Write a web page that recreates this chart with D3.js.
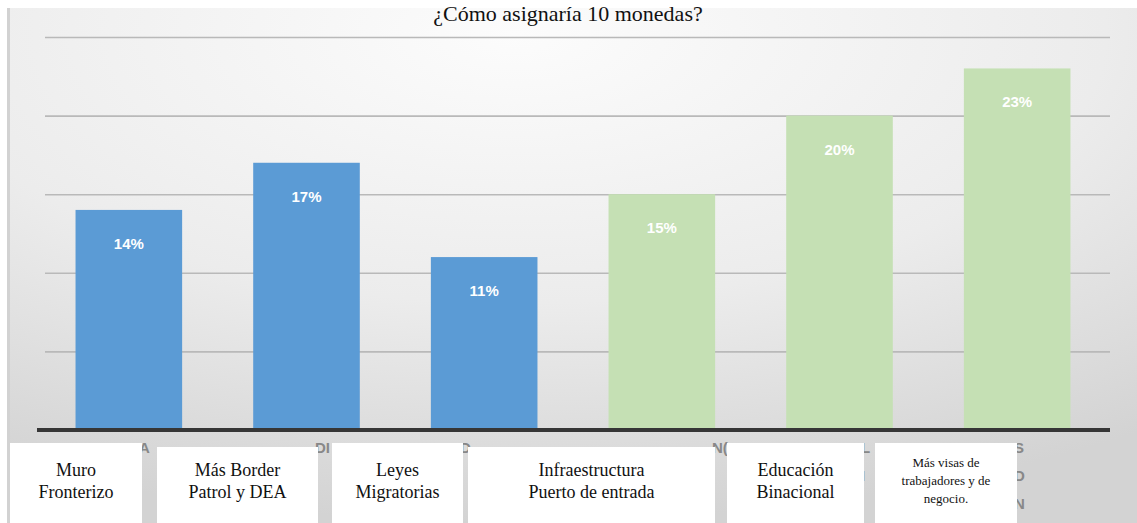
<!DOCTYPE html>
<html>
<head>
<meta charset="utf-8">
<script src="https://cdn.jsdelivr.net/npm/d3@7"></script>
<style>
    html, body { margin: 0; padding: 0; background: #ffffff; overflow: hidden; }
    svg { display: block; }
</style>
</head>
<body>
<div id="chart"></div>
<script>
// chart data
const categories = ['Muro Fronterizo', 'Más Border Patrol y DEA', 'Leyes Migratorias',
    'Infraestructura Puerto de entrada', 'Educación Binacional', 'Más visas de trabajadores y de negocio.'];
const shares = [14, 17, 11, 15, 20, 23];
const shareLabels = ['14%', '17%', '11%', '15%', '20%', '23%'];
const groups = ['seguridad', 'seguridad', 'seguridad', 'facilitacion', 'facilitacion', 'facilitacion'];
const yTicks = [5, 10, 15, 20, 25];

// text lines written in the white boxes under the axis
const boxLines = [
    ['Muro', 'Fronterizo'],
    ['Más Border', 'Patrol y DEA'],
    ['Leyes', 'Migratorias'],
    ['Infraestructura', 'Puerto de entrada'],
    ['Educación', 'Binacional'],
    ['Más visas de', 'trabajadores y de', 'negocio.']
];
// bits of the original axis labels that still show between the boxes
const ghostLines = [['A'], ['DI'], ['D'], ['N('], ['L', 'I'], ['S', 'D', 'N']];

const W = 1137;
const H = 523;
const baseY = 430;
const topY = 37;

const COLORS = { seguridad: '#5b9bd5', facilitacion: '#c5e0b4' };

// white boxes pasted over the axis labels: left, right, top
const boxLayout = [
    [10, 142, 443],
    [157, 318, 447],
    [332, 463, 443],
    [468, 715, 447],
    [727, 864, 443],
    [875, 1017, 443]
];

const svg = d3.select('#chart')
    .append('svg')
    .attr('width', W)
    .attr('height', H);

// background panel gradient
const defs = svg.append('defs');
const grad = defs.append('radialGradient')
    .attr('id', 'panelGrad')
    .attr('cx', '45%')
    .attr('cy', '5%')
    .attr('r', '95%');
grad.append('stop').attr('offset', '0%').attr('stop-color', '#fcfcfc');
grad.append('stop').attr('offset', '55%').attr('stop-color', '#ececec');
grad.append('stop').attr('offset', '100%').attr('stop-color', '#d3d3d3');

svg.append('rect')
    .attr('x', 7)
    .attr('y', 8)
    .attr('width', W - 7)
    .attr('height', H - 8)
    .attr('fill', 'url(#panelGrad)');
svg.append('rect')
    .attr('x', 7)
    .attr('y', 8)
    .attr('width', 3)
    .attr('height', H - 8)
    .attr('fill', '#d2d2d2');

// scales
const xScale = d3.scaleBand()
    .domain(categories)
    .range([40, 1106])
    .paddingInner(0.40)
    .paddingOuter(0.2);

const yScale = d3.scaleLinear()
    .domain([0, 25])
    .range([baseY, topY]);

// gridlines from the y axis
const yAxis = d3.axisLeft(yScale)
    .tickValues(yTicks)
    .tickSize(-(1110 - 45))
    .tickFormat('');

svg.append('g')
    .attr('class', 'grid')
    .attr('transform', 'translate(45,0)')
    .call(yAxis)
    .call((g) => g.select('.domain').remove())
    .call((g) => g.selectAll('.tick line')
        .attr('stroke', '#b9b9b9')
        .attr('stroke-width', 1.6));

// bars
const idx = d3.range(categories.length);
svg.append('g')
    .selectAll('rect')
    .data(idx)
    .enter()
    .append('rect')
    .attr('x', (i) => xScale(categories[i]))
    .attr('y', (i) => yScale(shares[i]))
    .attr('width', xScale.bandwidth())
    .attr('height', (i) => baseY - yScale(shares[i]))
    .attr('fill', (i) => COLORS[groups[i]]);

// value labels inside the bars
svg.append('g')
    .selectAll('text')
    .data(idx)
    .enter()
    .append('text')
    .attr('x', (i) => xScale(categories[i]) + xScale.bandwidth() / 2)
    .attr('y', (i) => yScale(shares[i]) + 39)
    .attr('text-anchor', 'middle')
    .attr('fill', '#ffffff')
    .style('font-family', 'Arial, "Liberation Sans", sans-serif')
    .style('font-weight', 'bold')
    .style('font-size', '15px')
    .text((i) => shareLabels[i]);

// x axis baseline
const xAxis = d3.axisBottom(xScale).tickSize(0).tickFormat('');
svg.append('g')
    .attr('transform', 'translate(0,' + baseY + ')')
    .call(xAxis)
    .call((g) => g.select('.domain')
        .attr('d', 'M-3,0H1070')
        .attr('transform', 'translate(40,0)')
        .attr('stroke', '#363636')
        .attr('stroke-width', 4));

// leftover pieces of the old labels
const ghost = svg.append('g')
    .attr('fill', '#888888')
    .style('font-family', 'Arial, "Liberation Sans", sans-serif')
    .style('font-weight', 'bold')
    .style('font-size', '15px');
ghostLines.forEach((lines, i) => {
    lines.forEach((t, j) => {
        ghost.append('text')
            .attr('x', boxLayout[i][1] - 3)
            .attr('y', 453 + j * 28)
            .text(t);
    });
});

// white label boxes
const boxes = svg.append('g');
boxLayout.forEach((b, i) => {
    boxes.append('rect')
        .attr('x', b[0])
        .attr('y', b[2])
        .attr('width', b[1] - b[0])
        .attr('height', H - b[2])
        .attr('fill', '#ffffff');

    const small = boxLines[i].length > 2;
    const txt = boxes.append('text')
        .attr('text-anchor', 'middle')
        .attr('fill', '#111111')
        .style('font-family', '"Liberation Serif", "Times New Roman", serif')
        .style('font-size', small ? '13px' : '18px');
    boxLines[i].forEach((line, j) => {
        txt.append('tspan')
            .attr('x', (b[0] + b[1]) / 2)
            .attr('y', small ? 467 + j * 18 : 476 + j * 22)
            .text(line);
    });
});

// title at the top edge
svg.append('text')
    .attr('x', 568)
    .attr('y', 21)
    .attr('text-anchor', 'middle')
    .attr('fill', '#111111')
    .style('font-family', '"Liberation Serif", "Times New Roman", serif')
    .style('font-size', '22px')
    .text('¿Cómo asignaría 10 monedas?');
</script>
</body>
</html>
